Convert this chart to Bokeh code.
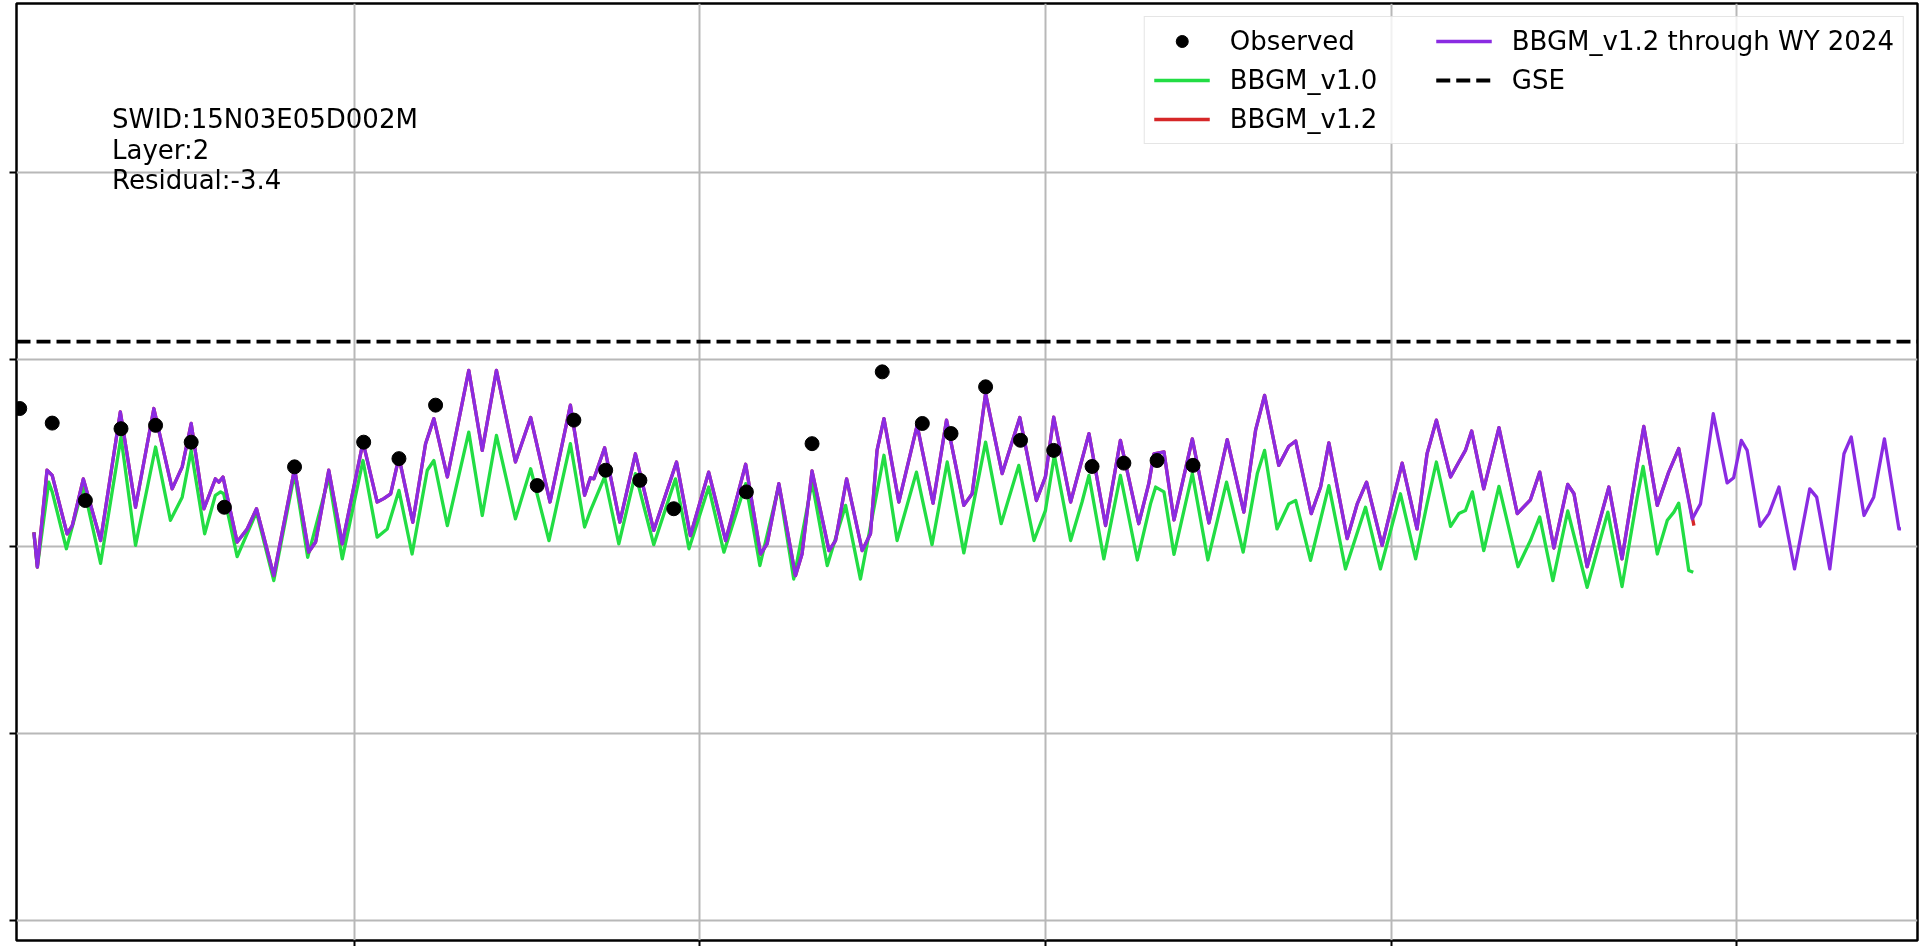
from bokeh.plotting import figure
from bokeh.models import Range1d, FixedTicker, Legend, LegendItem, Label
from bokeh.embed import file_html
from bokeh.resources import INLINE

# ---------------- data ----------------
obs_year = [1970.33, 1971.27, 1972.23, 1973.26, 1974.26, 1975.29, 1976.25, 1978.28,
            1980.28, 1981.30, 1982.36, 1985.30, 1986.36, 1987.28, 1988.27, 1989.25,
            1991.35, 1993.25, 1995.28, 1996.44, 1997.27, 1998.27, 1999.28, 2000.24,
            2001.35, 2002.27, 2003.23, 2004.27]
obs_val = [136.9, 133.0, 112.3, 131.5, 132.4, 127.9, 110.5, 121.3,
           127.9, 123.5, 137.8, 116.3, 133.8, 120.4, 117.7, 110.1,
           114.6, 127.5, 146.7, 132.9, 130.2, 142.7, 128.4, 125.7,
           121.4, 122.3, 123.0, 121.7]

v10_year = [1970.74, 1970.84, 1971.17, 1971.27, 1971.68, 1972.17, 1972.67, 1973.26, 1973.68,
            1974.26, 1974.69, 1975.03, 1975.29, 1975.68, 1975.99, 1976.14, 1976.23, 1976.62,
            1977.18, 1977.68, 1978.28, 1978.66, 1979.27, 1979.66, 1980.26, 1980.67, 1980.96,
            1981.30, 1981.68, 1982.12, 1982.31, 1982.70, 1983.32, 1983.71, 1984.12, 1984.67,
            1985.11, 1985.64, 1986.26, 1986.67, 1986.84, 1987.25, 1987.66, 1988.14, 1988.67,
            1989.30, 1989.69, 1990.26, 1990.70, 1991.33, 1991.74, 1992.29, 1992.72, 1993.25,
            1993.69, 1994.22, 1994.65, 1995.33, 1995.71, 1996.27, 1996.72, 1997.16, 1997.64,
            1998.27, 1998.72, 1999.23, 1999.67, 2000.00, 2000.26, 2000.73, 2001.06, 2001.26,
            2001.69, 2002.17, 2002.66, 2003.04, 2003.19, 2003.43, 2003.72, 2004.25, 2004.70,
            2005.24, 2005.72, 2006.13, 2006.34, 2006.70, 2007.04, 2007.24, 2007.67, 2008.20,
            2008.68, 2009.26, 2009.69, 2010.27, 2010.71, 2011.04, 2011.31, 2011.72, 2011.96,
            2012.15, 2012.35, 2012.68, 2013.12, 2013.67, 2014.03, 2014.30, 2014.68, 2015.11,
            2015.67, 2016.27, 2016.68, 2017.12, 2017.29, 2017.70, 2017.99, 2018.18, 2018.32,
            2018.61, 2018.74]
v10_val = [103.8, 94.5, 117.2, 114.6, 99.4, 116.3, 95.5, 129.3, 100.3,
           126.6, 107.0, 113.2, 125.7, 103.4, 113.7, 114.6, 114.1, 97.3,
           109.2, 90.9, 119.5, 97.1, 118.6, 96.7, 123.0, 102.5, 104.7,
           115.0, 98.0, 120.4, 123.0, 105.6, 130.6, 108.3, 129.7, 107.4,
           120.8, 101.6, 127.5, 105.2, 109.6, 118.6, 100.7, 119.5, 100.5,
           118.1, 99.4, 115.9, 98.5, 116.8, 94.9, 116.3, 91.3, 117.2,
           94.9, 111.0, 91.3, 124.4, 101.6, 119.9, 100.5, 122.6, 98.3,
           127.9, 106.1, 121.7, 101.6, 109.6, 124.4, 101.6, 111.9, 119.0,
           96.7, 119.0, 96.4, 111.4, 115.9, 114.6, 97.9, 119.5, 96.4,
           117.2, 98.5, 119.5, 125.7, 104.7, 111.4, 112.3, 96.3, 116.3,
           94.0, 110.5, 94.0, 114.1, 96.7, 111.4, 122.6, 105.4, 108.8,
           109.6, 114.6, 98.9, 116.1, 94.6, 101.6, 107.9, 90.9, 109.5,
           89.1, 109.2, 89.3, 113.2, 121.4, 98.0, 107.0, 109.2, 111.6,
           93.6, 93.1]

wy24_year = [1970.74, 1970.84, 1971.12, 1971.27, 1971.70, 1971.85, 1972.17, 1972.67, 1973.24,
             1973.68, 1974.21, 1974.74, 1975.03, 1975.29, 1975.66, 1975.99, 1976.09, 1976.21,
             1976.62, 1976.91, 1977.18, 1977.68, 1978.28, 1978.69, 1978.89, 1979.27, 1979.66,
             1980.26, 1980.67, 1980.86, 1981.06, 1981.30, 1981.70, 1982.07, 1982.31, 1982.70,
             1983.32, 1983.71, 1984.12, 1984.67, 1985.11, 1985.67, 1986.26, 1986.67, 1986.84,
             1986.94, 1987.25, 1987.69, 1988.14, 1988.67, 1989.33, 1989.73, 1990.26, 1990.75,
             1991.33, 1991.76, 1991.95, 1992.29, 1992.77, 1992.96, 1993.25, 1993.74, 1993.93,
             1994.25, 1994.70, 1994.94, 1995.13, 1995.33, 1995.76, 1996.29, 1996.75, 1997.14,
             1997.64, 1997.88, 1998.27, 1998.75, 1999.26, 1999.74, 2000.00, 2000.24, 2000.73,
             2001.26, 2001.74, 2002.17, 2002.70, 2002.99, 2003.14, 2003.43, 2003.72, 2004.25,
             2004.73, 2005.26, 2005.74, 2006.08, 2006.34, 2006.75, 2007.04, 2007.24, 2007.69,
             2007.96, 2008.20, 2008.73, 2009.02, 2009.29, 2009.74, 2010.03, 2010.32, 2010.75,
             2011.04, 2011.31, 2011.72, 2011.96, 2012.15, 2012.33, 2012.68, 2013.12, 2013.65,
             2014.03, 2014.30, 2014.71, 2015.11, 2015.29, 2015.67, 2016.30, 2016.68, 2017.12,
             2017.31, 2017.70, 2018.03, 2018.32, 2018.71, 2018.95, 2019.32, 2019.72, 2019.91,
             2020.13, 2020.30, 2020.67, 2020.93, 2021.22, 2021.67, 2022.11, 2022.31, 2022.69,
             2023.10, 2023.31, 2023.68, 2023.96, 2024.27, 2024.69, 2024.75]
wy24_val = [103.8, 94.5, 120.4, 119.0, 103.4, 105.6, 118.1, 101.6, 136.0,
            110.5, 136.9, 115.4, 121.3, 132.9, 110.1, 118.1, 117.2, 118.6,
            101.2, 104.7, 110.1, 92.2, 120.8, 98.5, 101.2, 120.4, 100.7,
            127.9, 111.9, 112.8, 114.1, 123.9, 106.5, 127.5, 134.2, 118.6,
            147.1, 125.7, 147.1, 122.6, 134.5, 111.9, 137.8, 113.7, 118.4,
            118.1, 126.4, 106.5, 124.8, 104.3, 122.6, 102.9, 119.9, 101.6,
            122.0, 98.0, 100.7, 116.8, 92.2, 98.0, 120.2, 98.9, 101.6,
            118.1, 98.9, 103.4, 125.7, 134.2, 111.9, 132.4, 111.6, 133.8,
            111.0, 114.1, 140.9, 119.5, 134.5, 112.3, 118.6, 134.6, 111.9,
            130.2, 105.6, 128.4, 106.1, 116.8, 124.8, 125.3, 107.1, 128.8,
            106.3, 128.6, 109.2, 131.1, 140.4, 121.7, 126.8, 128.2, 108.8,
            115.9, 127.7, 102.1, 111.4, 117.2, 100.3, 111.4, 122.3, 104.7,
            124.8, 133.8, 118.6, 122.6, 125.7, 130.9, 115.4, 131.8, 108.8,
            112.5, 119.9, 99.6, 116.6, 114.1, 94.6, 115.9, 96.7, 122.1,
            132.1, 111.0, 119.9, 126.2, 107.4, 111.4, 135.5, 117.0, 118.4,
            128.4, 125.7, 105.4, 108.8, 115.9, 94.0, 115.4, 113.2, 94.0,
            124.8, 129.3, 108.3, 113.2, 128.8, 104.7, 104.7]

# BBGM_v1.2 follows the WY 2024 run until its last shared peak, then ends lower
v12_last_shared = 2018.32
v12_end_year = [2018.76]
v12_end_val = [105.6]
v12_year = [y for y in wy24_year if y <= v12_last_shared] + v12_end_year
v12_val = [v for y, v in zip(wy24_year, wy24_val) if y <= v12_last_shared] + v12_end_val

gse_val = 154.8

x_ticks = [1980, 1990, 2000, 2010, 2020]
y_ticks = [0, 50, 100, 150, 200]

info_lines = ["SWID:15N03E05D002M", "Layer:2", "Residual:-3.4"]

# ---------------- figure ----------------
FONT = "DejaVu Sans"
x_lo, x_hi = 1970.237, 2025.227
y_lo, y_hi = -5.35, 245.2

p = figure(width=1912, height=946, output_backend="svg", toolbar_location=None,
           x_range=Range1d(x_lo, x_hi), y_range=Range1d(y_lo, y_hi),
           min_border_left=8, min_border_right=3, min_border_top=3, min_border_bottom=6,
           styles={"position": "fixed", "top": "0px", "left": "8px"})
p.background_fill_color = "white"
p.border_fill_color = "white"
p.outline_line_color = "black"
p.outline_line_width = 2.5

# the reference chart has its tick labels blanked out; only the tick marks remain
for ax in (p.xaxis[0], p.yaxis[0]):
    ax.major_label_text_font_size = "0px"
    ax.major_label_standoff = 0
    ax.major_tick_in = 0
    ax.major_tick_out = 6
    ax.major_tick_line_color = "black"
    ax.major_tick_line_width = 2
    ax.minor_tick_line_color = None
    ax.axis_line_color = None
p.xaxis.ticker = FixedTicker(ticks=x_ticks)
p.yaxis.ticker = FixedTicker(ticks=y_ticks)
p.yaxis.major_tick_out = 7

p.xgrid.grid_line_color = "#b8b8b8"
p.ygrid.grid_line_color = "#b8b8b8"
p.xgrid.grid_line_width = 2
p.ygrid.grid_line_width = 2

GREEN = "#22dd44"
RED = "#d62728"
PURPLE = "#8a2be2"
LW = 3.3

r_gse = p.line([x_lo, x_hi], [gse_val, gse_val], line_color="black", line_width=3.9,
               line_dash="14 6")
r_v10 = p.line(v10_year, v10_val, line_color=GREEN, line_width=LW, line_join="round")
r_v12 = p.line(v12_year, v12_val, line_color=RED, line_width=LW, line_join="round")
r_wy = p.line(wy24_year, wy24_val, line_color=PURPLE, line_width=LW, line_join="round")
r_obs = p.scatter(obs_year, obs_val, size=14, fill_color="black", line_color="black")

# info text
info_x = 1973.0
info_y = [214.4, 206.1, 198.1]
for t, yy in zip(info_lines, info_y):
    p.add_layout(Label(x=info_x, y=yy, text=t, text_font=FONT, text_font_size="26px",
                       text_color="black", text_baseline="alphabetic", text_align="left"))

legend = Legend(items=[
    LegendItem(label="Observed", renderers=[r_obs]),
    LegendItem(label="BBGM_v1.0", renderers=[r_v10]),
    LegendItem(label="BBGM_v1.2", renderers=[r_v12]),
    LegendItem(label="BBGM_v1.2 through WY 2024", renderers=[r_wy]),
    LegendItem(label="GSE", renderers=[r_gse]),
], location="top_right", orientation="vertical", nrows=3)
legend.margin = 13
legend.padding = 9
legend.spacing = 9
legend.glyph_width = 56
legend.glyph_height = 30
legend.label_height = 30
legend.label_width = 197
legend.label_standoff = 20
legend.label_text_font = FONT
legend.label_text_font_size = "26px"
legend.label_text_color = "black"
legend.background_fill_color = "white"
legend.background_fill_alpha = 0.8
legend.border_line_color = "#cccccc"
legend.border_line_width = 1.5
p.add_layout(legend)

open("out.html", "w").write(file_html(p, INLINE))
